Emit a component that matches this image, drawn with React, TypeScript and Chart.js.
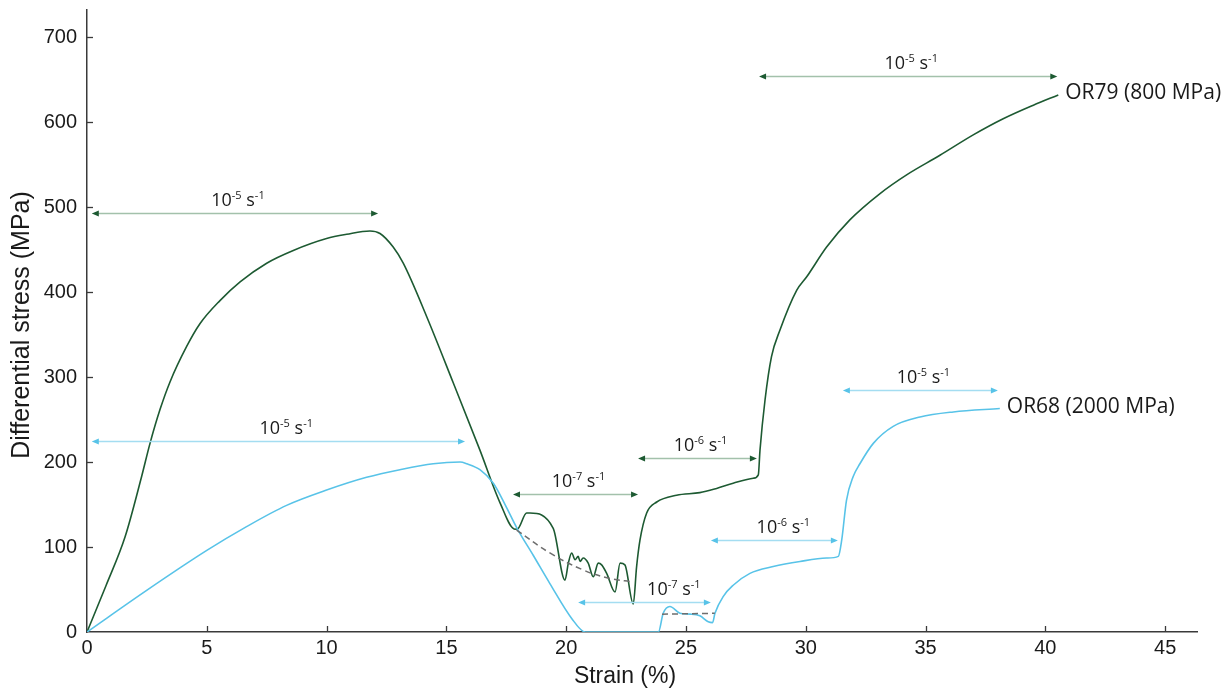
import React, { useEffect, useRef } from "react";
import { Chart, registerables } from "chart.js";

Chart.register(...registerables);

// ---- Data ----
const xTickValues = [0, 5, 10, 15, 20, 25, 30, 35, 40, 45];
const yTickValues = [0, 100, 200, 300, 400, 500, 600, 700];

// OR79 (800 MPa) – dark green
const or79Strain = [0, 0.8, 1.59, 2.28, 2.63, 3.05, 3.46, 4.16, 4.72, 5.55, 6.39, 7.5, 8.61, 10.0, 10.84, 11.81, 12.23, 12.78, 13.2, 14.18, 15.29, 16.4, 17.24, 17.86, 18.0, 18.35, 18.49, 19.46, 19.95, 20.09, 20.23, 20.37, 20.5, 20.58, 20.71, 20.92, 21.13, 21.34, 21.48, 21.69, 22.04, 22.25, 22.45, 22.8, 22.94, 23.08, 23.36, 23.78, 24.61, 25.58, 26.28, 26.97, 27.81, 28.02, 28.09, 28.3, 28.57, 28.92, 29.62, 30.04, 30.87, 31.84, 33.1, 34.21, 35.6, 36.99, 38.24, 39.5, 40.54];
const or79Stress = [0, 55, 112, 183, 222, 262, 294, 336, 363, 390, 412, 434, 449, 463, 468, 472, 469, 453, 434, 371, 293, 214, 152, 121, 122, 140, 140, 122, 61, 81, 93, 85, 89, 83, 87, 81, 65, 81, 79, 69, 47, 81, 79, 33, 77, 108, 140, 153, 161, 164, 169, 175, 181, 185, 214, 273, 324, 355, 402, 418, 453, 485, 516, 538, 561, 585, 604, 620, 632];

// OR68 (2000 MPa) – light blue
const or68Strain = [0, 2.49, 5.0, 6.66, 8.33, 10.0, 11.67, 13.06, 14.45, 15.57, 15.85, 16.4, 16.96, 17.45, 17.95, 18.63, 19.32, 20.23, 20.8, 23.85, 24.05, 24.33, 24.75, 25.17, 25.58, 25.93, 26.11, 26.21, 26.56, 26.97, 27.67, 28.64, 29.76, 30.87, 31.36, 31.5, 31.7, 31.98, 32.26, 32.82, 33.65, 34.77, 36.16, 38.1];
const or68Stress = [0, 49, 96, 124, 149, 167, 182, 191, 198, 200, 198, 191, 175, 150, 122, 90, 57, 16, 0, 0, 22, 30, 22, 21, 19, 12, 11, 22, 42, 55, 69, 77, 83, 87, 89, 108, 155, 183, 198, 222, 242, 253, 259, 263];

// dashed trend lines
const or79DashStrain = [17.93, 19.32, 20.71, 21.83, 22.79];
const or79DashStress = [120, 93, 73, 63, 59];
const or68DashStrain = [24.0, 26.2];
const or68DashStress = [21, 22];

// strain-rate arrows
const arrowFrom = [0.2, 0.2, 17.78, 23.0, 28.05, 20.5, 26.04, 31.55];
const arrowTo = [12.15, 15.78, 23.0, 27.96, 40.5, 26.04, 31.34, 38.02];
const arrowLevel = [493, 225, 162, 205, 654, 35, 108, 285];
const arrowExponent = ["-5", "-5", "-7", "-6", "-5", "-7", "-6", "-5"];
const arrowLabelShift = [0, 0.2, 0, 0, 0, 1.1, 0.25, 0];
const arrowSeries = ["OR79", "OR68", "OR79", "OR79", "OR79", "OR68", "OR68", "OR68"];

const seriesNames = ["OR79 (800 MPa)", "OR68 (2000 MPa)"];

const GREEN = "#1d5a32";
const GREEN_LIGHT = "#a3c1ab";
const CYAN = "#58c3e8";
const CYAN_LIGHT = "#a4ddf1";

const zip = (xs: number[], ys: number[]) => xs.map((x, i) => ({ x, y: ys[i] }));

const ANN_FONT = "'Open Sans', 'DejaVu Sans', sans-serif";
const AX_FONT = "'Liberation Sans', Arial, sans-serif";

function drawRate(ctx: CanvasRenderingContext2D, cx: number, baseY: number, exp: string) {
  const big = `18px ${ANN_FONT}`;
  const small = `11px ${ANN_FONT}`;
  const parts: [string, string, number][] = [
    ["10", big, 0],
    [exp, small, -7],
    [" s", big, 0],
    ["-1", small, -7],
  ];
  let total = 0;
  const widths = parts.map(([t, f]) => {
    ctx.font = f;
    const w = ctx.measureText(t).width;
    total += w;
    return w;
  });
  let x = cx - total / 2;
  ctx.fillStyle = "#1a1a1a";
  ctx.textAlign = "left";
  ctx.textBaseline = "alphabetic";
  parts.forEach(([t, f, dy], i) => {
    ctx.font = f;
    ctx.fillText(t, x, baseY + dy);
    x += widths[i];
  });
}

function drawArrow(ctx: CanvasRenderingContext2D, x1: number, x2: number, y: number, line: string, head: string) {
  ctx.save();
  ctx.strokeStyle = line;
  ctx.lineWidth = 1.6;
  ctx.beginPath();
  ctx.moveTo(x1 + 3, y);
  ctx.lineTo(x2 - 3, y);
  ctx.stroke();
  ctx.fillStyle = head;
  const hl = 7, hw = 3;
  ctx.beginPath();
  ctx.moveTo(x1, y);
  ctx.lineTo(x1 + hl, y - hw);
  ctx.lineTo(x1 + hl, y + hw);
  ctx.closePath();
  ctx.fill();
  ctx.beginPath();
  ctx.moveTo(x2, y);
  ctx.lineTo(x2 - hl, y - hw);
  ctx.lineTo(x2 - hl, y + hw);
  ctx.closePath();
  ctx.fill();
  ctx.restore();
}

const decorPlugin = {
  id: "decor",
  afterDatasetsDraw(chart: any) {
    const ctx: CanvasRenderingContext2D = chart.ctx;
    const xs = chart.scales.x;
    const ys = chart.scales.y;
    const area = chart.chartArea;
    ctx.save();
    // inward tick marks
    ctx.strokeStyle = "#3a3a3a";
    ctx.lineWidth = 1.3;
    xTickValues.forEach((v) => {
      if (v === 0) return;
      const px = Math.round(xs.getPixelForValue(v)) + 0.5;
      ctx.beginPath();
      ctx.moveTo(px, area.bottom);
      ctx.lineTo(px, area.bottom - 6);
      ctx.stroke();
    });
    yTickValues.forEach((v) => {
      if (v === 0) return;
      const py = Math.round(ys.getPixelForValue(v)) + 0.5;
      ctx.beginPath();
      ctx.moveTo(area.left, py);
      ctx.lineTo(area.left + 6, py);
      ctx.stroke();
    });

    // arrows + rate labels
    arrowFrom.forEach((from, i) => {
      const x1 = xs.getPixelForValue(from);
      const x2 = xs.getPixelForValue(arrowTo[i]);
      const y = Math.round(ys.getPixelForValue(arrowLevel[i])) + 0.5;
      const green = arrowSeries[i] === "OR79";
      drawArrow(ctx, x1, x2, y, green ? GREEN_LIGHT : CYAN_LIGHT, green ? GREEN : CYAN);
      const cx = xs.getPixelForValue((from + arrowTo[i]) / 2 + arrowLabelShift[i]);
      drawRate(ctx, cx + 3, y - 8, arrowExponent[i]);
    });

    // series labels at curve ends
    ctx.font = `21px ${ANN_FONT}`;
    ctx.fillStyle = "#1a1a1a";
    ctx.textAlign = "left";
    ctx.textBaseline = "middle";
    const e79 = or79Strain.length - 1;
    ctx.fillText(seriesNames[0], xs.getPixelForValue(or79Strain[e79]) + 7, ys.getPixelForValue(or79Stress[e79]) - 2);
    const e68 = or68Strain.length - 1;
    ctx.fillText(seriesNames[1], xs.getPixelForValue(or68Strain[e68]) + 7, ys.getPixelForValue(or68Stress[e68]) - 2);

    // axis titles
    ctx.font = `23px ${AX_FONT}`;
    ctx.textAlign = "center";
    ctx.textBaseline = "middle";
    ctx.fillText("Strain (%)", 625, 677);
    ctx.save();
    ctx.font = `25px ${AX_FONT}`;
    ctx.translate(22, 325);
    ctx.rotate(-Math.PI / 2);
    ctx.fillText("Differential stress (MPa)", 0, 0);
    ctx.restore();
    ctx.restore();
  },
};

export default function App() {
  const ref = useRef<HTMLCanvasElement>(null);
  useEffect(() => {
    document.body.style.margin = "0";
    const canvas = ref.current;
    if (!canvas) return;
    const chart = new Chart(canvas, {
      type: "line",
      data: {
        datasets: [
          {
            label: "OR79 dashed",
            data: zip(or79DashStrain, or79DashStress),
            borderColor: "#6e6e6e",
            borderWidth: 1.5,
            borderDash: [6, 4],
            pointRadius: 0,
            tension: 0.4,
            fill: false,
          },
          {
            label: "OR68 dashed",
            data: zip(or68DashStrain, or68DashStress),
            borderColor: "#6e6e6e",
            borderWidth: 1.5,
            borderDash: [6, 4],
            pointRadius: 0,
            fill: false,
          },
          {
            label: seriesNames[1],
            data: zip(or68Strain, or68Stress),
            borderColor: CYAN,
            borderWidth: 1.6,
            pointRadius: 0,
            cubicInterpolationMode: "monotone",
            fill: false,
          },
          {
            label: seriesNames[0],
            data: zip(or79Strain, or79Stress),
            borderColor: GREEN,
            borderWidth: 1.6,
            pointRadius: 0,
            cubicInterpolationMode: "monotone",
            fill: false,
          },
        ],
      },
      options: {
        animation: false,
        responsive: false,
        maintainAspectRatio: false,
        layout: { padding: { left: 0, top: 10, right: 30, bottom: 0 } },
        plugins: { legend: { display: false }, tooltip: { enabled: false } },
        scales: {
          x: {
            type: "linear",
            min: 0,
            max: 46.33,
            afterBuildTicks: (s: any) => {
              s.ticks = xTickValues.map((v) => ({ value: v }));
            },
            afterFit: (s: any) => {
              s.height = 58;
              s.paddingLeft = 0;
              s.paddingRight = 0;
            },
            grid: { display: false, drawTicks: false },
            border: { display: true, color: "#3a3a3a", width: 1.5 },
            ticks: {
              padding: 4,
              autoSkip: false,
              maxRotation: 0,
              color: "#1a1a1a",
              font: { family: AX_FONT, size: 20 },
            },
          },
          y: {
            type: "linear",
            min: 0,
            max: 732,
            afterBuildTicks: (s: any) => {
              s.ticks = yTickValues.map((v) => ({ value: v }));
            },
            afterFit: (s: any) => {
              s.width = 87;
              s.paddingTop = 0;
              s.paddingBottom = 0;
            },
            grid: { display: false, drawTicks: false },
            border: { display: true, color: "#3a3a3a", width: 1.5 },
            ticks: {
              padding: 10,
              autoSkip: false,
              color: "#1a1a1a",
              font: { family: AX_FONT, size: 20 },
            },
          },
        },
      },
      plugins: [decorPlugin],
    } as any);
    return () => chart.destroy();
  }, []);
  return (
    <div style={{ width: 1227, height: 690 }}>
      <canvas ref={ref} width={1227} height={690} style={{ display: "block" }} />
    </div>
  );
}
